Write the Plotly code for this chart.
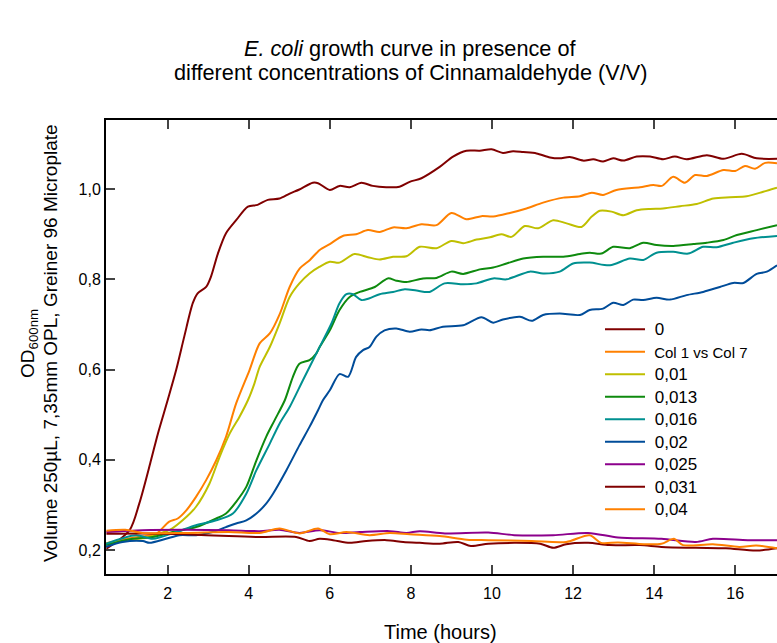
import plotly.graph_objects as go

# ---- data (time in hours, OD600) ----
names = ["0", "Col 1 vs Col 7", "0,01", "0,013", "0,016", "0,02", "0,025", "0,031", "0,04"]
colors = ["#800000", "#FF8000", "#BFBF00", "#0E8A0E", "#009090", "#004C99", "#8C008C", "#800000", "#FF8000"]

t_0 = [0.49, 1.06, 1.30, 1.59, 1.76, 2.0, 2.21, 2.41, 2.62, 2.74, 2.95, 3.07, 3.24, 3.44, 3.69, 3.98, 4.22, 4.47,
       4.76, 5.01, 5.25, 5.58, 5.71, 6.0, 6.24, 6.49, 6.78, 7.06, 7.39, 7.72, 7.97, 8.26, 8.71, 9.04, 9.37, 9.70,
       9.99, 10.27, 10.52, 10.77, 11.10, 11.43, 11.67, 11.92, 12.25, 12.50, 12.74, 12.99, 13.24, 13.57, 13.90,
       14.22, 14.51, 14.80, 15.30, 15.71, 16.16, 16.53, 17.03]
od_0 = [0.203, 0.244, 0.303, 0.399, 0.458, 0.532, 0.599, 0.673, 0.747, 0.769, 0.783, 0.806, 0.857, 0.902, 0.931,
        0.961, 0.965, 0.976, 0.979, 0.990, 0.999, 1.014, 1.013, 0.998, 1.007, 1.004, 1.014, 1.007, 1.004, 1.005,
        1.016, 1.024, 1.049, 1.072, 1.085, 1.085, 1.088, 1.080, 1.084, 1.082, 1.079, 1.070, 1.068, 1.071, 1.063,
        1.066, 1.061, 1.068, 1.063, 1.072, 1.072, 1.066, 1.072, 1.066, 1.075, 1.067, 1.078, 1.068, 1.067]

t_col = [0.49, 1.0, 1.5, 1.72, 2.04, 2.25, 2.46, 2.70, 2.95, 3.20, 3.44, 3.69, 4.02, 4.27, 4.52, 4.77, 5.01, 5.26,
         5.51, 5.75, 6.0, 6.32, 6.65, 6.94, 7.23, 7.56, 7.89, 8.26, 8.63, 9.0, 9.37, 9.74, 10.03, 10.44, 10.85,
         11.26, 11.76, 12.17, 12.46, 12.74, 13.07, 13.65, 13.98, 14.19, 14.47, 14.76, 15.01, 15.30, 15.71, 16.0,
         16.24, 16.49, 16.74, 17.03]
od_col = [0.215, 0.225, 0.232, 0.236, 0.263, 0.270, 0.288, 0.318, 0.355, 0.399, 0.451, 0.525, 0.599, 0.658, 0.680,
          0.724, 0.783, 0.824, 0.843, 0.865, 0.878, 0.896, 0.900, 0.909, 0.905, 0.915, 0.913, 0.922, 0.920, 0.947,
          0.933, 0.940, 0.939, 0.947, 0.957, 0.970, 0.981, 0.984, 0.992, 0.987, 0.998, 1.004, 1.009, 1.007, 1.027,
          1.014, 1.031, 1.029, 1.042, 1.040, 1.051, 1.045, 1.058, 1.057]

t_001 = [0.49, 1.0, 1.5, 1.76, 2.04, 2.37, 2.70, 3.03, 3.28, 3.53, 3.77, 3.98, 4.14, 4.27, 4.52, 4.76, 5.01, 5.25,
         5.50, 5.75, 6.0, 6.24, 6.61, 6.94, 7.23, 7.56, 7.89, 8.22, 8.63, 9.0, 9.29, 9.62, 9.95, 10.23, 10.48,
         10.81, 11.14, 11.51, 11.84, 12.21, 12.46, 12.66, 12.95, 13.24, 13.57, 13.90, 14.22, 14.64, 15.05, 15.46,
         15.87, 16.28, 16.69, 17.03]
od_001 = [0.215, 0.222, 0.228, 0.236, 0.244, 0.266, 0.296, 0.347, 0.406, 0.458, 0.495, 0.532, 0.569, 0.606, 0.650,
          0.702, 0.761, 0.791, 0.813, 0.828, 0.839, 0.837, 0.856, 0.849, 0.844, 0.850, 0.851, 0.872, 0.869, 0.885,
          0.880, 0.888, 0.893, 0.900, 0.894, 0.918, 0.913, 0.931, 0.924, 0.916, 0.939, 0.952, 0.950, 0.942, 0.953,
          0.956, 0.957, 0.962, 0.967, 0.979, 0.982, 0.984, 0.994, 1.003]

t_0013 = [0.48, 1.14, 1.63, 2.13, 2.70, 3.20, 3.44, 3.69, 3.94, 4.19, 4.43, 4.64, 4.89, 5.09, 5.25, 5.50, 5.67,
          5.75, 6.0, 6.24, 6.49, 6.74, 7.11, 7.43, 7.64, 7.89, 8.30, 8.63, 9.0, 9.29, 9.70, 10.03, 10.36, 10.77,
          11.26, 11.76, 12.17, 12.41, 12.70, 12.99, 13.40, 13.73, 14.06, 14.47, 14.97, 15.30, 15.71, 16.04, 16.53,
          17.03]
od_0013 = [0.211, 0.225, 0.229, 0.240, 0.251, 0.270, 0.281, 0.307, 0.340, 0.399, 0.451, 0.488, 0.532, 0.584, 0.613,
           0.621, 0.636, 0.650, 0.687, 0.732, 0.761, 0.772, 0.783, 0.802, 0.797, 0.794, 0.802, 0.803, 0.817, 0.812,
           0.822, 0.826, 0.835, 0.846, 0.850, 0.850, 0.856, 0.859, 0.857, 0.872, 0.869, 0.881, 0.876, 0.874, 0.878,
           0.881, 0.887, 0.898, 0.909, 0.920]

t_0016 = [0.48, 1.22, 1.63, 2.21, 2.70, 3.20, 3.61, 3.94, 4.19, 4.52, 4.76, 5.01, 5.34, 5.67, 6.04, 6.24, 6.41,
          6.57, 6.78, 6.98, 7.23, 7.56, 7.85, 8.14, 8.46, 8.83, 9.29, 9.62, 10.03, 10.36, 10.93, 11.26, 11.67,
          12.0, 12.41, 12.91, 13.40, 13.73, 14.06, 14.47, 14.84, 15.21, 15.54, 15.95, 16.45, 17.03]
od_0016 = [0.214, 0.233, 0.225, 0.240, 0.255, 0.266, 0.281, 0.325, 0.377, 0.436, 0.480, 0.517, 0.577, 0.636, 0.702,
           0.747, 0.767, 0.767, 0.754, 0.758, 0.767, 0.772, 0.778, 0.775, 0.772, 0.791, 0.789, 0.791, 0.802, 0.800,
           0.817, 0.813, 0.817, 0.835, 0.837, 0.831, 0.846, 0.843, 0.859, 0.861, 0.857, 0.872, 0.871, 0.881, 0.891,
           0.896]

t_002 = [0.48, 0.89, 1.39, 1.55, 1.96, 2.29, 2.70, 3.11, 3.44, 3.69, 3.94, 4.19, 4.43, 4.60, 4.93, 5.25, 5.50, 5.71,
         5.83, 6.0, 6.24, 6.45, 6.65, 6.82, 6.98, 7.15, 7.35, 7.64, 7.97, 8.26, 8.46, 8.79, 9.29, 9.74, 10.03, 10.27,
         10.69, 10.98, 11.26, 11.67, 12.17, 12.41, 12.74, 12.99, 13.24, 13.48, 13.73, 14.06, 14.39, 14.80, 15.21,
         15.62, 15.95, 16.20, 16.53, 16.78, 17.03]
od_002 = [0.207, 0.218, 0.220, 0.216, 0.225, 0.233, 0.233, 0.240, 0.251, 0.259, 0.266, 0.281, 0.303, 0.325, 0.377,
          0.432, 0.473, 0.510, 0.532, 0.554, 0.590, 0.584, 0.628, 0.643, 0.650, 0.673, 0.687, 0.691, 0.684, 0.689,
          0.687, 0.695, 0.698, 0.716, 0.704, 0.711, 0.717, 0.708, 0.721, 0.724, 0.721, 0.732, 0.735, 0.748, 0.743,
          0.755, 0.754, 0.759, 0.755, 0.765, 0.772, 0.783, 0.792, 0.792, 0.812, 0.817, 0.831]

t_0025 = [0.49, 1.38, 2.44, 3.51, 4.27, 4.76, 5.25, 5.75, 6.24, 6.74, 7.48, 7.89, 8.22, 8.84, 9.91, 10.55, 11.51,
          12.37, 13.11, 14.18, 15.03, 15.45, 16.31, 17.03]
od_0025 = [0.240, 0.244, 0.245, 0.244, 0.242, 0.245, 0.238, 0.244, 0.238, 0.240, 0.242, 0.238, 0.242, 0.237, 0.239,
           0.233, 0.233, 0.238, 0.228, 0.225, 0.218, 0.225, 0.222, 0.222]

t_0031 = [0.49, 1.38, 2.44, 3.51, 4.27, 5.17, 5.50, 5.75, 6.08, 6.49, 6.90, 7.40, 7.81, 8.22, 8.71, 9.17, 9.48, 9.91,
          10.55, 11.19, 11.51, 11.83, 12.37, 12.90, 13.64, 14.18, 15.03, 15.77, 16.52, 17.03]
od_0031 = [0.236, 0.237, 0.235, 0.231, 0.229, 0.229, 0.220, 0.225, 0.222, 0.216, 0.220, 0.222, 0.218, 0.216, 0.214,
           0.218, 0.209, 0.214, 0.216, 0.214, 0.205, 0.213, 0.216, 0.211, 0.211, 0.207, 0.205, 0.204, 0.199, 0.204]

t_004 = [0.49, 0.96, 1.38, 2.44, 3.51, 4.27, 4.76, 5.25, 5.71, 6.0, 6.41, 6.98, 7.48, 7.97, 8.71, 9.38, 9.91, 10.98,
         11.83, 12.41, 12.69, 13.11, 13.75, 14.18, 14.49, 14.71, 15.45, 16.10, 16.52, 17.03]
od_004 = [0.243, 0.245, 0.238, 0.238, 0.240, 0.238, 0.248, 0.237, 0.248, 0.235, 0.240, 0.233, 0.238, 0.235, 0.231,
          0.223, 0.222, 0.220, 0.218, 0.233, 0.216, 0.217, 0.213, 0.214, 0.225, 0.211, 0.213, 0.207, 0.210, 0.204]

x_ticks = [2, 4, 6, 8, 10, 12, 14, 16]
y_ticks = [0.2, 0.4, 0.6, 0.8, 1.0]

title_lines = ["<i>E. coli</i> growth curve in presence of",
               "different concentrations of Cinnamaldehyde (V/V)"]
y_title_lines = ["OD<sub>600nm</sub>", "Volume 250µL, 7,35mm OPL, Greiner 96 Microplate"]
x_title = "Time (hours)"

series_t = [t_0, t_col, t_001, t_0013, t_0016, t_002, t_0025, t_0031, t_004]
series_od = [od_0, od_col, od_001, od_0013, od_0016, od_002, od_0025, od_0031, od_004]

FONT = "Liberation Sans, Arial, sans-serif"
L, T, PW, PH = 106, 120, 671, 454  # plot area in px


def px_x(x):
    return (x - L) / PW


def px_y(y):
    return 1 - (y - T) / PH


fig = go.Figure()
for i, (nm, c, tt, oo) in enumerate(zip(names, colors, series_t, series_od)):
    size = 15 if nm == "Col 1 vs Col 7" else 17
    label = f'<span style="font-size:{size}px">\u00a0{nm}</span>'
    fig.add_trace(go.Scatter(x=tt, y=oo, mode="lines", name=label,
                             line=dict(color=c, width=2, shape="spline", smoothing=0.8),
                             legendgroup=f"g{i}"))

annotations = [
    dict(text=title_lines[0], x=px_x(410), y=px_y(48), font=dict(size=21.7)),
    dict(text=title_lines[1], x=px_x(410), y=px_y(73), font=dict(size=21.7)),
    dict(text=y_title_lines[0], x=px_x(29), y=px_y(344), textangle=-90, font=dict(size=19)),
    dict(text=y_title_lines[1], x=px_x(50), y=px_y(343), textangle=-90, font=dict(size=19)),
    dict(text=x_title, x=px_x(440), y=px_y(632), font=dict(size=20)),
]
for a in annotations:
    a.update(xref="paper", yref="paper", xanchor="center", yanchor="middle", showarrow=False)
    a["font"].update(family=FONT, color="black")

fig.update_layout(
    width=777, height=643,
    margin=dict(l=L, r=777 - L - PW, t=T, b=643 - T - PH),
    paper_bgcolor="white", plot_bgcolor="white",
    separators=",.",
    font=dict(family=FONT, size=16, color="black"),
    showlegend=True,
    legend=dict(x=px_x(600), y=px_y(313), xanchor="left", yanchor="top", itemwidth=40,
                bgcolor="rgba(0,0,0,0)", font=dict(family=FONT, size=15),
                traceorder="grouped", tracegroupgap=0),
    annotations=annotations,
)
fig.update_xaxes(range=[0.48, 17.03], tickvals=x_ticks, ticks="inside", ticklen=9, tickwidth=1.5,
                 showline=True, linewidth=2, linecolor="black", mirror="ticks", showgrid=False, zeroline=False,
                 tickfont=dict(family=FONT, size=16), ticklabelstandoff=4)
fig.update_yaxes(range=[0.147, 1.153], tickvals=y_ticks, tickformat=".1f", ticks="inside", ticklen=9, tickwidth=1.5,
                 showline=True, linewidth=2, linecolor="black", showgrid=False, zeroline=False,
                 tickfont=dict(family=FONT, size=16))

fig.write_html("out.html")
